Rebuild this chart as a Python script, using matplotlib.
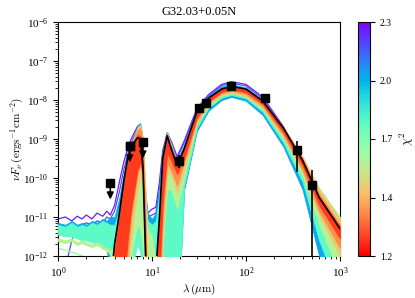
import numpy as np
import matplotlib
matplotlib.use("Agg")
import matplotlib.pyplot as plt
from matplotlib import cm, colors

plt.rcParams['font.family'] = ['Liberation Serif', 'DejaVu Serif']
plt.rcParams['mathtext.fontset'] = 'cm'

# ---------------- data ----------------
title = "G32.03+0.05N"

# observed photometry (micron, erg s-1 cm-2)
obs_lam = [5.8, 19.4, 31.5, 37.5, 70.0, 160.0, 350.0, 500.0]
obs_flux = [6.6e-10, 2.8e-10, 6.3e-9, 8.3e-9, 2.3e-8, 1.1e-8, 5.2e-10, 6.6e-11]
obs_err = [0.0, 1.0e-10, 0.0, 0.0, 0.0, 0.0, 3.8e-10, 9.4e-11]

# upper limits
lim_lam = [3.6, 5.8, 8.0]
lim_flux = [7.4e-11, 6.6e-10, 8.3e-10]

# model wavelength grid (micron)
lam = [1.0, 1.2, 1.4, 1.6, 1.8, 2.0, 2.3, 2.6, 3.0, 3.3, 3.6, 4.0, 4.5, 5.0, 5.5,
       6.0, 7.0, 7.5, 8.0, 8.5, 9.0, 10.0, 11.0, 12.0, 13.0, 14.5, 16.0, 18.5, 22.0,
       30.0, 40.0, 55.0, 70.0, 100.0, 150.0, 250.0, 400.0, 600.0, 1000.0]

# best-fit SED, log10(nu F_nu)
sed_best = [-14, -14, -14, -14, -14, -14, -14, -14, -14, -14, -12.8, -11.7, -10.9,
            -10.1, -9.5, -9.2, -8.97, -9.0, -9.7, -11.8, -14, -14, -12.4, -11.0,
            -9.5, -8.92, -9.25, -9.68, -9.25, -8.3, -7.95, -7.72, -7.65, -7.72,
            -8.02, -8.72, -9.55, -10.5, -11.3]

# individual poorly fitting models (chi^2, log10 SED)
chi2_p1 = 2.28
sed_p1 = [-11.05, -11.0, -11.1, -10.98, -11.05, -10.95, -11.05, -10.9, -10.98,
          -10.85, -10.95, -10.7, -10.1, -9.6, -9.25, -9.0, -8.68, -8.62, -9.05,
          -10.3, -10.9, -10.8, -10.75, -10.1, -9.3, -8.85, -9.05, -9.45, -9.05,
          -8.22, -7.86, -7.6, -7.53, -7.6, -7.92, -8.68, -9.6, -10.9, -12.6]
chi2_p2 = 2.2
sed_p2 = [-13.5, -12.3, -11.6, -11.25, -11.2, -11.15, -11.2, -11.1, -11.15, -11.0,
          -11.05, -10.85, -10.35, -9.8, -9.4, -9.1, -8.75, -8.7, -9.2, -10.6,
          -11.0, -10.95, -10.9, -10.3, -9.4, -8.9, -9.1, -9.5, -9.1, -8.25, -7.9,
          -7.64, -7.57, -7.64, -7.96, -8.72, -9.7, -11.3, -13.0]
chi2_g2 = 1.7
sed_g2 = [-11.8, -11.85, -11.9, -11.95, -12.0, -12.05, -12.1, -12.2, -12.3, -12.4,
          -12.6, -12.0, -11.2, -10.4, -9.9, -9.5, -9.0, -8.9, -9.2, -10.4, -11.3,
          -11.6, -11.5, -10.7, -9.6, -8.95, -9.3, -9.9, -9.4, -8.45, -8.05, -7.8,
          -7.74, -7.82, -8.13, -8.85, -9.7, -10.7, -11.7]

# spread of model SEDs in chi^2 bins: upper / lower log10 envelopes
chi2_blue = 2.05
blue_hi = [-11.15, -11.2, -11.1, -11.2, -11.15, -11.2, -11.1, -11.15, -11.05, -11.1,
           -11.0, -11.0, -10.5, -9.9, -9.45, -9.1, -8.65, -8.6, -9.0, -10.6, -10.9,
           -11.05, -10.9, -10.2, -9.3, -8.82, -9.1, -9.55, -9.15, -8.25, -7.9,
           -7.66, -7.6, -7.68, -8.0, -8.72, -9.6, -10.7, -11.8]
blue_lo = [-11.35, -11.4, -11.4, -11.45, -11.45, -11.5, -11.55, -11.6, -11.7, -11.8,
           -12.6, -13.0, -13.5, -14, -14, -12.3, -11.6, -11.8, -12.5, -14, -14,
           -14, -14, -14, -14, -14, -14, -14, -10.3, -8.8, -8.27, -8.0, -7.92,
           -8.02, -8.38, -9.2, -10.3, -12.0, -14]

chi2_cyan = 1.82
cyan_hi = [-11.2, -11.25, -11.15, -11.25, -11.2, -11.25, -11.15, -11.2, -11.1,
           -11.15, -11.2, -11.2, -10.8, -10.2, -9.7, -9.3, -8.85, -8.75, -9.05,
           -10.8, -11.1, -11.2, -11.1, -10.4, -9.45, -8.88, -9.2, -9.65, -9.3,
           -8.38, -8.0, -7.74, -7.68, -7.76, -8.06, -8.8, -9.7, -10.8, -11.9]
cyan_lo = [-11.45, -11.5, -11.5, -11.55, -11.6, -11.6, -11.65, -11.7, -11.75, -11.8,
           -12.0, -14, -14, -14, -14, -12.4, -11.7, -11.9, -12.6, -14, -14, -14,
           -14, -14, -14, -14, -14, -14, -10.2, -8.72, -8.2, -7.94, -7.87, -7.96,
           -8.3, -9.1, -10.1, -11.6, -13.0]

chi2_green = 1.62
green_hi = [-11.55, -11.6, -11.55, -11.65, -11.6, -11.65, -11.7, -11.65, -11.75,
            -11.8, -11.85, -11.8, -11.1, -10.4, -9.9, -9.5, -8.95, -8.82, -9.1,
            -10.3, -11.3, -11.5, -12.3, -11.0, -9.55, -8.9, -9.2, -9.7, -9.3,
            -8.35, -7.98, -7.73, -7.67, -7.74, -8.04, -8.74, -9.5, -10.25, -11.0]
green_lo = [-11.62, -11.67, -11.62, -11.72, -11.67, -11.72, -11.77, -11.72, -11.82,
            -11.87, -11.95, -14, -14, -14, -13.5, -12.0, -11.2, -11.3, -11.8, -13.0,
            -12.6, -12.5, -14, -14, -11.8, -10.3, -10.3, -10.8, -10.0, -8.62,
            -8.15, -7.9, -7.83, -7.92, -8.24, -9.0, -9.95, -11.2, -12.5]

chi2_yellow = 1.5
yellow_hi = [-14, -14, -14, -14, -14, -14, -14, -14, -14, -14, -14, -12.2, -11.1,
             -10.2, -9.6, -9.15, -8.7, -8.63, -9.0, -10.4, -12.8, -14, -12.5,
             -11.0, -9.5, -8.84, -9.15, -9.62, -9.22, -8.3, -7.95, -7.72, -7.66,
             -7.73, -8.02, -8.7, -9.45, -10.3, -11.05]
yellow_lo = [-14, -14, -14, -14, -14, -14, -14, -14, -14, -14, -14, -14, -14,
             -13.5, -12.5, -11.5, -10.3, -10.0, -10.2, -11.8, -14, -14, -14,
             -13.5, -11.5, -9.9, -9.9, -10.4, -9.8, -8.6, -8.12, -7.87, -7.81,
             -7.9, -8.2, -8.95, -9.85, -10.95, -12.0]

chi2_orange = 1.38
orange_hi = [-14, -14, -14, -14, -14, -14, -14, -14, -14, -14, -14, -12.1, -11.0,
             -10.15, -9.55, -9.15, -8.78, -8.72, -9.15, -10.9, -13.5, -14, -12.4,
             -11.0, -9.5, -8.87, -9.18, -9.62, -9.2, -8.28, -7.93, -7.7, -7.64,
             -7.71, -8.01, -8.7, -9.5, -10.4, -11.2]
orange_lo = [-14, -14, -14, -14, -14, -14, -14, -14, -14, -14, -14, -14, -14,
             -13.0, -12.0, -11.0, -9.9, -9.7, -9.9, -11.5, -14, -14, -14, -13.0,
             -11.0, -9.6, -9.8, -10.2, -9.6, -8.5, -8.07, -7.83, -7.77, -7.85,
             -8.16, -8.9, -9.8, -10.85, -11.8]

chi2_red = 1.25
red_hi = [-14, -14, -14, -14, -14, -14, -14, -14, -14, -14, -14, -11.9, -10.95,
          -10.1, -9.5, -9.18, -8.9, -8.92, -9.55, -11.5, -14, -14, -12.4, -11.0,
          -9.5, -8.9, -9.22, -9.66, -9.23, -8.29, -7.94, -7.71, -7.64, -7.71,
          -8.01, -8.71, -9.53, -10.47, -11.25]
red_lo = [-14, -14, -14, -14, -14, -14, -14, -14, -14, -14, -14, -14, -14, -12.8,
          -11.6, -10.8, -9.8, -9.6, -9.9, -12.5, -14, -14, -14, -12.5, -10.6,
          -9.35, -9.55, -9.9, -9.5, -8.45, -8.03, -7.79, -7.73, -7.8, -8.1, -8.83,
          -9.68, -10.7, -11.55]

chi2_min, chi2_max = 1.16, 2.32
cbar_labels = ['1.2', '1.4', '1.7', '2.0', '2.3']

lines = [(chi2_p1, sed_p1), (chi2_p2, sed_p2), (chi2_g2, sed_g2)]
bands = [(chi2_blue, blue_lo, blue_hi), (chi2_cyan, cyan_lo, cyan_hi),
         (chi2_green, green_lo, green_hi), (chi2_yellow, yellow_lo, yellow_hi),
         (chi2_orange, orange_lo, orange_hi), (chi2_red, red_lo, red_hi)]

# ---------------- plot ----------------
W, H = 415, 298
fig = plt.figure(figsize=(W / 100, H / 100), dpi=100)
ax = fig.add_axes([58 / W, 1 - 256 / H, (340 - 58) / W, (256 - 22) / H])
cax = fig.add_axes([358 / W, 1 - 256 / H, 12 / W, (256 - 22) / H])

cmap = plt.get_cmap('rainbow_r')
norm = colors.Normalize(vmin=chi2_min, vmax=chi2_max)
lam_a = np.array(lam)

for c2, sed in lines:
    ax.plot(lam_a, 10 ** np.array(sed, float), color=cmap(norm(c2)), lw=0.9, zorder=2)

for c2, lo, hi in bands:
    col = cmap(norm(c2))
    ax.fill_between(lam_a, 10 ** np.array(lo, float), 10 ** np.array(hi, float),
                    facecolor=col, edgecolor=col, lw=0.6, zorder=3)

ax.plot(lam_a, 10 ** np.array(sed_best, float), color='k', lw=1.2, zorder=4)

ax.errorbar(obs_lam, obs_flux, yerr=obs_err, fmt='s', color='k', ms=5.5,
            elinewidth=1.2, capsize=0, zorder=5)
ax.plot(lim_lam, lim_flux, 's', color='k', ms=5.5, zorder=5)
for xl, yl in zip(lim_lam, lim_flux):
    ax.annotate('', xy=(xl, yl * 0.38), xytext=(xl, yl),
                arrowprops=dict(arrowstyle='-|>', color='k', lw=1.2,
                                mutation_scale=10, shrinkA=0, shrinkB=0), zorder=5)

ax.set_xscale('log')
ax.set_yscale('log')
ax.set_xlim(1, 1000)
ax.set_ylim(1e-12, 1e-6)
ax.set_title(title, fontsize=9, pad=5)
ax.set_xlabel(r'$\lambda\,(\mu{\rm m})$', fontsize=8, labelpad=1)
ax.set_ylabel(r'$\nu F_{\nu}\,({\rm ergs^{-1}cm^{-2}})$', fontsize=8, labelpad=-2)
ax.tick_params(labelsize=8)

sm = cm.ScalarMappable(norm=norm, cmap=cmap)
cb = fig.colorbar(sm, cax=cax)
cb.set_ticks(np.linspace(chi2_min, chi2_max, len(cbar_labels)))
cb.set_ticklabels(cbar_labels)
cb.ax.tick_params(labelsize=7)
cb.set_label(r'$\chi^2$', fontsize=9)

fig.savefig('out.png', dpi=100)
